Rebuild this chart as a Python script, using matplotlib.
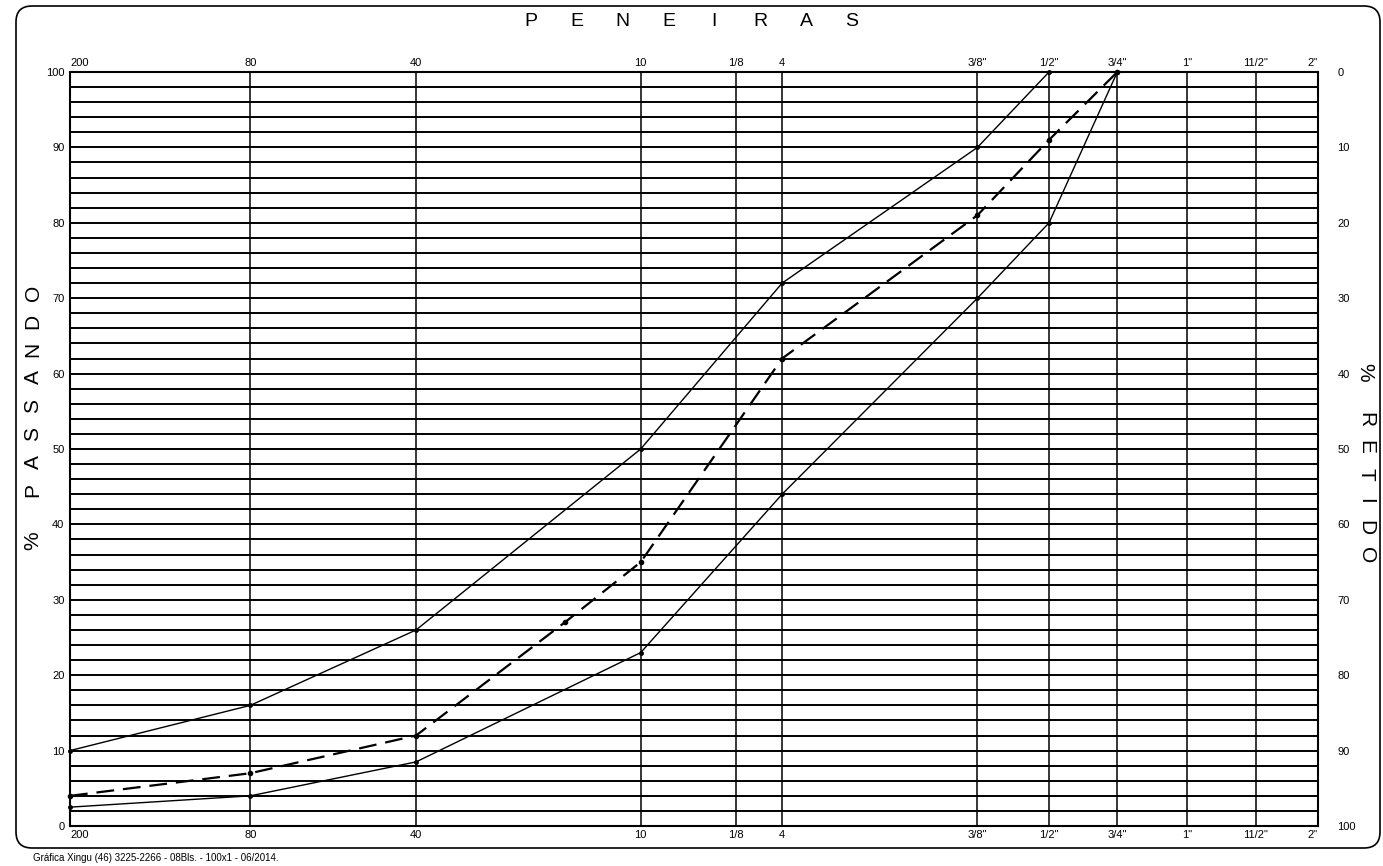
import numpy as np
import matplotlib
matplotlib.use("Agg")
import matplotlib.pyplot as plt
from matplotlib.patches import FancyBboxPatch
from matplotlib.transforms import IdentityTransform

# ---------------- data ----------------
sieve_labels = ['200', '80', '40', '10', '1/8', '4', '3/8"', '1/2"', '3/4"', '1"', '11/2"', '2"']
sieve_mm = [0.075, 0.18, 0.42, 2.0, 3.175, 4.76, 9.5, 12.7, 19.1, 25.4, 38.1, 50.8]

upper_mm = [0.075, 0.18, 0.42, 2.0, 4.76, 9.5, 12.7, 19.1]
upper_pass = [10, 16, 26, 50, 72, 90, 100, 100]

mid_mm = [0.075, 0.18, 0.42, 1.18, 2.0, 4.76, 9.5, 12.7, 19.1]
mid_pass = [4, 7, 12, 27, 35, 62, 81, 91, 100]

lower_mm = [0.075, 0.18, 0.42, 2.0, 4.76, 9.5, 12.7, 19.1]
lower_pass = [2.5, 4, 8.5, 23, 44, 70, 80, 100]

pass_ticks = list(range(0, 101, 10))
retido_ticks = list(range(0, 101, 10))

title_text = "PENEIRAS"
left_title = "PASSANDO"
right_title = "RETIDO"
footer_text = "Gráfica Xingu (46) 3225-2266 - 08Bls. - 100x1 - 06/2014."

# layout of the printed form: fraction of chart width where each sieve line sits
sieve_frac = [0.0, 0.1445, 0.2773, 0.4573, 0.5335, 0.5706, 0.7271, 0.7845,
              0.8392, 0.8954, 0.9501, 1.0]

# ---------------- figure ----------------
W, H = 1383, 866
plt.rcParams['font.family'] = ['Liberation Sans', 'DejaVu Sans']
fig = plt.figure(figsize=(W / 100, H / 100), dpi=100)
fig.patch.set_facecolor('white')

def fx(x):
    return x / W

def fy(y):
    return 1 - y / H

ax_left, ax_right, ax_top, ax_bot = 70, 1318, 72, 826
ax = fig.add_axes([fx(ax_left), fy(ax_bot), (ax_right - ax_left) / W, (ax_bot - ax_top) / H])

logmm = np.log10(sieve_mm)

def fwd(x):
    x = np.clip(np.asarray(x, dtype=float), 1e-9, None)
    return np.interp(np.log10(x), logmm, sieve_frac)

def inv(f):
    return 10 ** np.interp(np.asarray(f, dtype=float), sieve_frac, logmm)

ax.set_xscale('function', functions=(fwd, inv))
ax.set_xlim(sieve_mm[0], sieve_mm[-1])
ax.set_ylim(0, 100)

# grid
ax.set_xticks(sieve_mm)
ax.set_xticklabels(sieve_labels)
ax.set_yticks(pass_ticks)
ax.set_yticks(np.arange(0, 101, 2), minor=True)
ax.grid(axis='y', which='both', color='black', linewidth=1.4)
ax.grid(axis='x', which='major', color='black', linewidth=1.1)
ax.set_axisbelow(True)
for s in ax.spines.values():
    s.set_linewidth(1.5)
    s.set_color('black')

ax.tick_params(axis='x', which='both', length=0, top=True, labeltop=True,
               labelsize=8, pad=3)
ax.tick_params(axis='y', which='both', length=0, labelsize=8, pad=4)

for i, t in enumerate(ax.xaxis.get_major_ticks()):
    if i == 0:
        t.label1.set_horizontalalignment('left')
        t.label2.set_horizontalalignment('left')
    elif i == len(sieve_mm) - 1:
        t.label1.set_horizontalalignment('right')
        t.label2.set_horizontalalignment('right')

# right axis: % retido
sec = ax.secondary_yaxis('right', functions=(lambda y: 100 - y, lambda y: 100 - y))
sec.set_yticks(retido_ticks)
sec.tick_params(length=0, labelsize=8, pad=14)
sec.spines['right'].set_visible(False)

# curves
ax.plot(upper_mm, upper_pass, color='black', linewidth=1.0, marker='o',
        markersize=2.5, clip_on=False, zorder=5)
ax.plot(mid_mm, mid_pass, color='black', linewidth=1.6, dashes=(8, 4),
        marker='o', markersize=3, clip_on=False, zorder=5)
ax.plot(lower_mm, lower_pass, color='black', linewidth=1.0, marker='o',
        markersize=2.5, clip_on=False, zorder=5)

# title letters
for ch, x in zip(title_text, np.linspace(531, 852, len(title_text))):
    fig.text(fx(x), fy(22), ch, ha='center', va='center', fontsize=14)

# % PASSANDO (vertical, left)
fig.text(fx(33), fy(541), '%', rotation=90, ha='center', va='center', fontsize=15)
for ch, y in zip(left_title, np.linspace(490, 293, len(left_title))):
    fig.text(fx(33), fy(y), ch, rotation=90, ha='center', va='center', fontsize=15)

# % RETIDO (vertical, right)
fig.text(fx(1365), fy(372), '%', rotation=-90, ha='center', va='center', fontsize=15)
for ch, y in zip(right_title, np.linspace(420, 555, len(right_title))):
    fig.text(fx(1366), fy(y), ch, rotation=-90, ha='center', va='center', fontsize=15)

# frame of the printed form
frame = FancyBboxPatch((16, H - 848), 1364, 842,
                       boxstyle="round,pad=0,rounding_size=16",
                       transform=IdentityTransform(), fill=False,
                       edgecolor='black', linewidth=1.2)
fig.patches.append(frame)

fig.text(fx(33), fy(858), footer_text, ha='left', va='center', fontsize=7)

fig.savefig('out.png', dpi=100, facecolor='white')
